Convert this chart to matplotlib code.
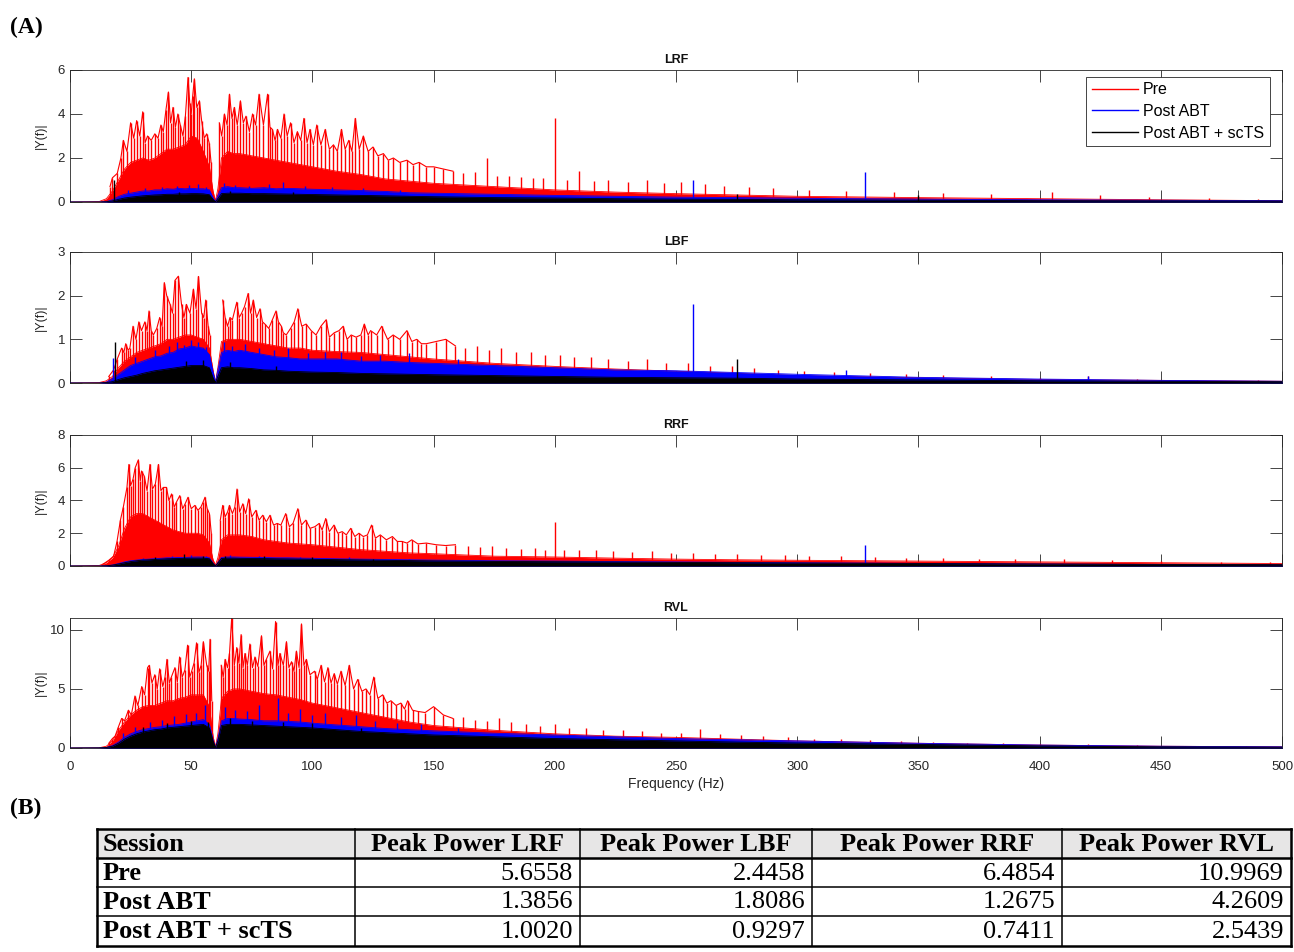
import matplotlib
matplotlib.use("Agg")
import matplotlib.pyplot as plt
from matplotlib.lines import Line2D
from matplotlib.patches import Rectangle

# ---------------------------------------------------------------- data
# Frequency grid (Hz) of the dense "body" of every spectrum.
BODY_F = [0, 12, 15, 17.5, 20, 22.5, 25, 27.5, 30, 32.5, 35, 37.5, 40, 42.5, 45, 47.5,
          50, 52.5, 55, 57.5, 59, 60, 61, 62.5, 65, 67.5, 70, 75, 80, 85, 90, 95,
          100, 110, 120, 130, 140, 150, 175, 200, 225, 250, 275, 300, 350, 400, 450, 500]

SERIES = ["Pre", "Post ABT", "Post ABT + scTS"]
MUSCLES = ["LRF", "LBF", "RRF", "RVL"]

# --- LRF
LRF_PRE_BODY = [0, 0.02, 0.15, 0.5, 1.0, 1.5, 1.8, 1.9, 2.0, 1.9, 2.0, 2.2, 2.4, 2.4, 2.5, 2.6,
                3.0, 2.9, 2.3, 1.6, 0.5, 0.05, 0.6, 2.0, 2.3, 2.2, 2.2, 2.1, 2.0, 1.9, 1.8, 1.7,
                1.6, 1.4, 1.25, 1.05, 0.95, 0.85, 0.7, 0.55, 0.45, 0.38, 0.32, 0.26, 0.2, 0.15, 0.1, 0.06]
LRF_ABT_BODY = [0, 0, 0.02, 0.1, 0.25, 0.35, 0.4, 0.45, 0.5, 0.5, 0.55, 0.55, 0.6, 0.58, 0.62, 0.6,
                0.62, 0.6, 0.6, 0.55, 0.2, 0.02, 0.3, 0.65, 0.7, 0.65, 0.65, 0.62, 0.65, 0.6, 0.62, 0.6,
                0.58, 0.55, 0.52, 0.48, 0.42, 0.4, 0.35, 0.3, 0.26, 0.22, 0.2, 0.17, 0.13, 0.1, 0.08, 0.06]
LRF_TS_BODY = [0, 0, 0.01, 0.05, 0.12, 0.18, 0.22, 0.25, 0.28, 0.3, 0.32, 0.33, 0.35, 0.35, 0.37, 0.37,
               0.38, 0.38, 0.37, 0.33, 0.12, 0.01, 0.15, 0.38, 0.4, 0.4, 0.4, 0.38, 0.38, 0.37, 0.36, 0.35,
               0.34, 0.32, 0.3, 0.28, 0.26, 0.24, 0.2, 0.18, 0.15, 0.13, 0.12, 0.1, 0.08, 0.06, 0.05, 0.04]
LRF_PRE_SPIKES = [
    (16.5, 0.7), (17.5, 1.1), (19.5, 1.3), (21, 2.0), (22, 2.8), (23.5, 2.3), (25, 3.6), (26.3, 2.9),
    (27.5, 3.7), (28.8, 3.0), (30, 4.1), (31, 2.7), (32, 3.0), (33.5, 2.8), (35, 3.1), (36.3, 2.9),
    (37.5, 3.5), (38.5, 3.2), (39.6, 4.2), (40.6, 5.0), (41.5, 3.6), (42.5, 4.3), (43.5, 3.4),
    (44.5, 4.0), (45.5, 3.5), (46.6, 3.0), (47.6, 3.9), (48.7, 5.66), (49.4, 4.5), (50, 4.0),
    (50.6, 4.8), (51.3, 5.6), (52.3, 4.3), (53.4, 4.6), (54.3, 3.7), (55.4, 2.9), (56.4, 3.1),
    (57.4, 2.7), (58.2, 1.8),
    (61.6, 3.6), (62.6, 3.0), (63.7, 4.0), (64.8, 3.5), (65.8, 4.9), (66.8, 3.8), (67.8, 4.3),
    (69, 3.5), (70.3, 4.6), (71.5, 3.6), (72.6, 3.9), (74, 3.2), (75.3, 4.0), (76.6, 3.5), (78, 4.9),
    (79.8, 3.5), (81.5, 4.9), (82.5, 3.4), (83.5, 3.3), (84.6, 2.8), (85.6, 3.3), (87, 2.9),
    (88.3, 4.0), (89.6, 3.0), (91, 3.6), (92.4, 2.7), (93.8, 3.2), (95.2, 2.8), (96.5, 3.8),
    (97.8, 2.7), (99, 3.3), (100.4, 2.6), (101.8, 3.5), (103.5, 2.6), (105.3, 3.3), (107, 2.4),
    (108.7, 2.6), (110.3, 2.3), (112, 3.3), (113.5, 2.4), (115, 2.8), (116.3, 2.3), (117.7, 3.8),
    (119.3, 2.4), (121, 3.0), (123, 2.3), (125, 2.5), (127, 2.1), (129.3, 2.2), (131.3, 1.9),
    (133.4, 2.0), (136, 1.8), (139, 1.9), (141.5, 1.7), (144, 1.8), (147, 1.6), (150, 1.6),
    (154, 1.5), (158, 1.4), (162, 1.3), (167, 1.35), (172, 2.0), (176, 1.2), (181, 1.2),
    (186, 1.15), (191, 1.1), (195, 1.1), (200, 3.8), (205, 1.0), (210, 1.4), (216, 0.95),
    (222, 1.0), (230, 0.9), (238, 1.0), (245, 0.85), (252, 0.9), (262, 0.8), (270, 0.75),
    (280, 0.7), (290, 0.65), (305, 0.55), (320, 0.5), (340, 0.45), (360, 0.4), (380, 0.38),
    (405, 0.45), (425, 0.3), (445, 0.25), (470, 0.2), (490, 0.15)]
LRF_ABT_SPIKES = [(24, 0.55), (31, 0.62), (38, 0.7), (44, 0.72), (49, 0.78), (53, 0.8), (56, 0.68),
                  (63.5, 0.85), (68, 0.78), (74, 0.72), (82, 0.8), (88, 0.9), (97, 0.72),
                  (108, 0.68), (121, 0.62), (136, 0.55), (257, 1.0), (328, 1.3856)]
LRF_TS_SPIKES = [(18.3, 1.002), (45, 0.45), (66, 0.5), (92, 0.45), (275, 0.35), (350, 0.3)]

# --- LBF
LBF_PRE_BODY = [0, 0.01, 0.05, 0.15, 0.35, 0.5, 0.6, 0.7, 0.75, 0.8, 0.85, 0.9, 1.0, 1.0, 1.05, 1.1,
                1.1, 1.05, 1.0, 0.8, 0.3, 0.02, 0.35, 0.95, 1.0, 1.0, 1.0, 0.95, 0.9, 0.85, 0.8, 0.8,
                0.75, 0.72, 0.7, 0.65, 0.6, 0.55, 0.45, 0.38, 0.32, 0.27, 0.22, 0.17, 0.12, 0.08, 0.06, 0.04]
LBF_ABT_BODY = [0, 0, 0.02, 0.1, 0.2, 0.3, 0.4, 0.45, 0.5, 0.55, 0.6, 0.62, 0.68, 0.7, 0.78, 0.8,
                0.85, 0.82, 0.8, 0.65, 0.25, 0.02, 0.3, 0.7, 0.75, 0.72, 0.75, 0.7, 0.65, 0.6, 0.58, 0.55,
                0.55, 0.55, 0.5, 0.5, 0.47, 0.45, 0.4, 0.35, 0.3, 0.28, 0.24, 0.2, 0.13, 0.09, 0.06, 0.04]
LBF_TS_BODY = [0, 0, 0.01, 0.03, 0.08, 0.12, 0.15, 0.18, 0.22, 0.25, 0.28, 0.3, 0.32, 0.34, 0.36, 0.38,
               0.4, 0.4, 0.4, 0.35, 0.12, 0.01, 0.15, 0.35, 0.37, 0.35, 0.35, 0.33, 0.3, 0.29, 0.27, 0.26,
               0.25, 0.24, 0.22, 0.21, 0.2, 0.19, 0.17, 0.15, 0.13, 0.12, 0.11, 0.09, 0.07, 0.05, 0.04, 0.03]
LBF_PRE_SPIKES = [
    (16, 0.15), (18, 0.3), (19.5, 0.55), (21.3, 0.8), (22.2, 0.7), (23, 0.9), (24, 0.75), (24.7, 0.8),
    (26, 1.3), (27.2, 1.0), (28.4, 1.4), (29.5, 1.2), (30.9, 1.4), (31.8, 1.2), (32.6, 1.65),
    (33.5, 1.2), (34.4, 1.1), (35.8, 1.25), (37, 1.5), (38, 1.3), (38.9, 2.3), (39.9, 2.0),
    (41.3, 1.8), (42.3, 1.6), (43.3, 2.35), (44.7, 2.4458), (46, 1.8), (47, 1.5), (48, 1.8),
    (49.5, 1.6), (50.9, 2.15), (52, 1.7), (53, 2.44), (54.3, 1.6), (55.2, 1.5), (56, 1.9),
    (57, 1.3), (57.7, 1.1),
    (63, 1.9), (64, 1.5), (65, 1.3), (66, 1.5), (67, 1.45), (68.8, 1.85), (69.8, 1.5), (70.8, 1.6),
    (72, 1.75), (73.5, 2.05), (74.5, 1.6), (75.6, 1.9), (77, 1.5), (78.4, 1.7), (79.4, 1.4),
    (80.4, 1.35), (82, 1.25), (83.5, 1.45), (85, 1.65), (86, 1.4), (87.2, 1.3), (88, 1.15),
    (89.2, 1.1), (91, 1.25), (92.5, 1.4), (94, 1.7), (95.6, 1.3), (97.4, 1.35), (99.5, 1.2),
    (101.5, 1.1), (103.5, 1.3), (105.7, 1.45), (107, 1.05), (109, 1.15), (111, 1.2), (112.7, 1.3),
    (114.3, 1.0), (116, 1.1), (118, 1.05), (120, 1.1), (121.4, 1.35), (123, 1.1), (124, 1.2),
    (126.5, 1.1), (128.6, 1.3), (131, 1.0), (133.3, 1.1), (136, 1.0), (139, 1.2), (141, 0.95),
    (143, 1.0), (145, 0.9), (147, 0.9), (151, 0.95), (155, 1.0), (159, 0.85), (163, 0.8),
    (168, 0.85), (173, 0.75), (178, 0.8), (184, 0.7), (190, 0.7), (196, 0.65), (202, 0.65),
    (208, 0.6), (215, 0.6), (222, 0.55), (230, 0.5), (238, 0.55), (246, 0.45), (255, 0.45),
    (264, 0.4), (273, 0.4), (282, 0.35), (292, 0.3), (303, 0.28), (315, 0.25), (330, 0.22),
    (345, 0.2), (360, 0.18), (380, 0.15), (400, 0.12), (420, 0.15), (440, 0.1), (465, 0.08),
    (490, 0.06)]
LBF_ABT_SPIKES = [(17.6, 0.57), (27, 0.6), (35, 0.75), (41, 0.85), (44, 0.95), (47, 0.88), (50, 0.98),
                  (53, 0.95), (56, 0.82), (63.5, 0.95), (67, 0.85), (72, 0.9), (78, 0.8), (84, 0.75),
                  (90, 0.8), (98, 0.68), (105, 0.7), (112, 0.72), (120, 0.62), (128, 0.65),
                  (140, 0.68), (160, 0.55), (257, 1.8086), (320, 0.3), (420, 0.15)]
LBF_TS_SPIKES = [(18.6, 0.9297), (48, 0.5), (55, 0.52), (66, 0.48), (85, 0.4), (275, 0.55)]

# --- RRF
RRF_PRE_BODY = [0, 0.03, 0.2, 0.5, 1.2, 2.3, 3.0, 3.2, 3.2, 3.0, 2.8, 2.6, 2.4, 2.2, 2.1, 2.0,
                2.0, 2.0, 1.9, 1.4, 0.4, 0.05, 0.5, 1.6, 1.9, 1.9, 1.9, 1.8, 1.6, 1.5, 1.4, 1.35,
                1.3, 1.15, 1.0, 0.9, 0.8, 0.75, 0.6, 0.55, 0.48, 0.42, 0.38, 0.35, 0.3, 0.25, 0.2, 0.15]
RRF_ABT_BODY = [0, 0, 0.02, 0.06, 0.15, 0.25, 0.32, 0.36, 0.4, 0.42, 0.45, 0.47, 0.5, 0.5, 0.52, 0.52,
                0.54, 0.55, 0.55, 0.5, 0.18, 0.02, 0.2, 0.52, 0.55, 0.55, 0.54, 0.53, 0.52, 0.5, 0.5, 0.48,
                0.47, 0.44, 0.42, 0.4, 0.38, 0.36, 0.32, 0.3, 0.27, 0.25, 0.22, 0.2, 0.16, 0.12, 0.09, 0.07]
RRF_TS_BODY = [0, 0, 0.01, 0.05, 0.12, 0.2, 0.27, 0.32, 0.36, 0.38, 0.4, 0.42, 0.44, 0.45, 0.46, 0.47,
               0.48, 0.48, 0.48, 0.44, 0.15, 0.01, 0.18, 0.46, 0.48, 0.48, 0.47, 0.46, 0.45, 0.44, 0.43, 0.42,
               0.41, 0.39, 0.37, 0.35, 0.33, 0.31, 0.28, 0.26, 0.24, 0.22, 0.2, 0.18, 0.15, 0.12, 0.1, 0.08]
RRF_PRE_SPIKES = [
    (13.5, 0.1), (16, 0.35), (18, 0.6), (19.4, 1.5), (20.8, 2.8), (22, 3.6), (23.5, 4.8), (24.3, 6.2),
    (25, 4.9), (26, 5.3), (26.9, 6.0), (28.2, 6.4854), (29, 5.2), (29.5, 5.8), (30.6, 5.5),
    (31.8, 4.6), (33, 6.2), (34, 4.7), (35.2, 5.0), (36.5, 6.2), (37.5, 4.6), (38.5, 4.8),
    (39.8, 4.8), (40.8, 4.0), (41.9, 4.4), (43, 3.6), (43.9, 3.9), (45.3, 4.3), (46.5, 3.5),
    (47.5, 3.8), (48.7, 4.2), (50, 3.5), (51.5, 3.7), (52.8, 3.4), (54, 3.6), (54.9, 3.9),
    (55.7, 4.2), (56.6, 3.5), (57.5, 3.2), (58.3, 2.0),
    (62, 2.8), (63, 3.7), (64, 3.0), (65, 3.3), (65.8, 3.7), (67, 3.2), (68, 3.6), (68.9, 4.7),
    (70, 3.3), (71.3, 3.8), (72.5, 3.2), (73.7, 4.1), (75, 3.0), (76.7, 3.4), (78, 2.8),
    (79.5, 3.1), (81, 2.7), (82.5, 3.1), (84, 2.5), (85.5, 2.6), (87, 2.5), (89, 3.2), (90.5, 2.4),
    (92, 2.6), (94, 3.5), (95.5, 2.5), (97.3, 2.8), (99, 2.3), (101, 2.4), (102.8, 2.6), (104, 2.2),
    (105.5, 2.9), (107, 2.1), (108.9, 2.5), (110.5, 2.0), (112.3, 2.1), (114, 1.9), (115.8, 2.3),
    (117.5, 1.8), (119.2, 2.0), (121, 1.8), (122.7, 1.9), (124.4, 2.5), (126, 1.7), (128, 1.9),
    (130.5, 1.6), (133, 1.8), (135, 1.5), (137, 1.5), (139, 1.4), (141, 1.6), (143.5, 1.35),
    (147, 1.4), (151, 1.3), (155, 1.25), (159, 1.3), (164, 1.2), (169, 1.15), (174, 1.2),
    (180, 1.1), (186, 1.05), (192, 1.1), (196, 1.0), (200, 2.7), (204, 1.0), (210, 0.95),
    (217, 1.0), (224, 0.9), (232, 0.85), (240, 0.9), (248, 0.8), (257, 0.8), (266, 0.75),
    (275, 0.75), (285, 0.7), (295, 0.65), (305, 0.6), (318, 0.6), (332, 0.55), (345, 0.5),
    (360, 0.5), (375, 0.45), (390, 0.42), (410, 0.4), (430, 0.35), (450, 0.3), (475, 0.27),
    (495, 0.22)]
RRF_ABT_SPIKES = [(30, 0.5), (42, 0.6), (50, 0.65), (56, 0.6), (66, 0.7), (78, 0.6), (95, 0.58),
                  (115, 0.52), (140, 0.45), (328, 1.2675)]
RRF_TS_SPIKES = [(35, 0.55), (47, 0.7411), (55, 0.62), (64, 0.6), (80, 0.6), (100, 0.52), (125, 0.45)]

# --- RVL
RVL_PRE_BODY = [0, 0.02, 0.15, 0.6, 1.5, 2.2, 2.8, 3.2, 3.5, 3.6, 3.6, 3.8, 4.0, 4.0, 4.2, 4.3,
                4.5, 4.5, 4.5, 3.5, 1.0, 0.1, 1.2, 4.2, 4.8, 5.0, 5.0, 4.8, 4.6, 4.5, 4.3, 4.1,
                3.8, 3.4, 3.0, 2.6, 2.2, 1.9, 1.5, 1.2, 1.0, 0.9, 0.75, 0.6, 0.4, 0.25, 0.15, 0.1]
RVL_ABT_BODY = [0, 0.01, 0.05, 0.2, 0.5, 0.9, 1.2, 1.4, 1.55, 1.65, 1.75, 1.8, 1.9, 1.95, 2.0, 2.1,
                2.2, 2.3, 2.4, 2.0, 0.7, 0.05, 0.8, 2.3, 2.5, 2.5, 2.45, 2.4, 2.3, 2.3, 2.25, 2.2,
                2.1, 1.95, 1.8, 1.65, 1.55, 1.45, 1.25, 1.1, 0.95, 0.8, 0.7, 0.6, 0.4, 0.25, 0.15, 0.1]
RVL_TS_BODY = [0, 0.01, 0.04, 0.15, 0.4, 0.75, 1.0, 1.2, 1.35, 1.45, 1.55, 1.6, 1.7, 1.75, 1.8, 1.85,
               1.9, 1.95, 2.0, 1.7, 0.6, 0.03, 0.6, 1.9, 2.0, 2.0, 2.0, 1.95, 1.9, 1.85, 1.8, 1.75,
               1.7, 1.55, 1.4, 1.3, 1.2, 1.1, 0.95, 0.8, 0.7, 0.6, 0.5, 0.42, 0.3, 0.18, 0.1, 0.07]
RVL_PRE_SPIKES = [
    (16, 0.4), (17.5, 0.8), (18.6, 1.0), (20, 1.8), (21.3, 2.5), (22.5, 2.3), (24.1, 3.2), (25.3, 2.8),
    (26.8, 4.4), (28, 3.6), (29.6, 5.2), (30.8, 4.5), (32, 6.8), (32.7, 7.0), (33.8, 5.5), (35, 6.2),
    (36, 5.0), (37, 6.7), (38.3, 5.2), (39.2, 6.0), (40, 7.5), (41, 5.5), (41.8, 6.0), (43.3, 6.8),
    (44.3, 5.6), (45.2, 7.7), (46.3, 6.0), (47.4, 6.6), (48.5, 8.7), (49.4, 6.0), (50.2, 6.5),
    (51.2, 7.2), (52.2, 8.9), (53.2, 6.4), (54.1, 7.0), (55, 9.0), (56.4, 7.0), (57.2, 6.5),
    (57.8, 9.2), (58.5, 4.0),
    (62.4, 7.0), (63.2, 6.0), (64, 7.5), (65, 6.8), (65.8, 8.0), (66.7, 10.9969), (67.8, 7.0),
    (68.8, 8.5), (69.7, 7.2), (70.6, 9.6), (71.4, 6.8), (72.2, 8.0), (73.2, 7.0), (74.2, 8.8),
    (75.3, 6.8), (76.3, 7.7), (77.5, 6.9), (79, 9.5), (80, 7.0), (81, 7.5), (82.5, 8.2), (83.6, 6.7),
    (84.8, 10.7), (85.8, 7.0), (86.6, 8.0), (88, 7.0), (89.3, 9.0), (90.3, 6.8), (91.4, 7.3),
    (92.4, 6.5), (93.4, 8.2), (94.5, 6.8), (95.5, 10.5), (96.5, 7.0), (97.5, 7.5), (99, 6.2),
    (100.9, 6.5), (102, 5.8), (103.6, 7.0), (105, 5.6), (106.4, 6.8), (107.7, 5.5), (109, 6.3),
    (110.3, 5.4), (111.8, 6.5), (113.5, 5.3), (115.2, 7.0), (117, 5.0), (118.7, 5.8), (120.4, 4.8),
    (122.1, 5.0), (123.7, 4.5), (125.3, 6.0), (127, 4.2), (129, 4.5), (130.7, 3.8), (132.4, 4.0),
    (134.5, 3.6), (136.5, 3.8), (138, 3.3), (139.3, 4.0), (141.3, 3.2), (143.4, 3.1), (146.5, 3.0),
    (150, 3.5), (154, 2.8), (158, 2.5), (162, 2.6), (167, 2.4), (172, 2.3), (177, 2.5), (182, 2.2),
    (188, 2.0), (194, 1.9), (200, 2.0), (206, 1.7), (213, 1.7), (220, 1.5), (228, 1.5), (236, 1.4),
    (244, 1.3), (252, 1.3), (260, 1.6), (268, 1.2), (277, 1.1), (286, 1.0), (296, 0.9), (307, 0.8),
    (318, 0.75), (330, 0.65), (343, 0.6), (356, 0.5), (370, 0.45), (385, 0.4), (400, 0.35),
    (420, 0.3), (440, 0.25), (460, 0.2), (485, 0.15)]
RVL_ABT_SPIKES = [(22, 1.3), (27, 1.8), (33, 2.2), (38, 2.4), (43, 2.7), (48, 2.9), (52, 3.0),
                  (55.5, 3.6), (64, 3.5), (68, 3.2), (73, 3.1), (78, 3.6), (86, 4.2609), (90, 3.0),
                  (95, 3.3), (100, 2.8), (105, 3.0), (112, 2.6), (118, 2.8), (126, 2.3), (135, 2.1),
                  (145, 2.0), (160, 1.7)]
RVL_TS_SPIKES = [(30, 1.8), (40, 2.1), (50, 2.3), (57, 2.2), (66, 2.5439), (75, 2.3), (88, 2.2),
                 (100, 2.1), (120, 1.7)]

Y_MAX = [6, 3, 8, 11]
Y_TICKS = [[0, 2, 4, 6], [0, 1, 2, 3], [0, 2, 4, 6, 8], [0, 5, 10]]

# table (B)
TABLE_HEADER = ["Session", "Peak Power LRF", "Peak Power LBF", "Peak Power RRF", "Peak Power RVL"]
PEAK_LRF = [5.6558, 1.3856, 1.0020]
PEAK_LBF = [2.4458, 1.8086, 0.9297]
PEAK_RRF = [6.4854, 1.2675, 0.7411]
PEAK_RVL = [10.9969, 4.2609, 2.5439]

# ---------------------------------------------------------------- style
W, H = 1294, 952
RED, BLUE, BLACK = "#ff0000", "#0000ff", "#000000"
GRAY = "#262626"
SERIF = ["Liberation Serif", "DejaVu Serif"]
plt.rcParams["font.family"] = ["Liberation Sans", "DejaVu Sans"]

PANEL_ROWS = [(70, 202), (252, 383), (435, 566), (618, 748)]   # top, bottom in px
AX_LEFT, AX_RIGHT = 70, 1282

panels = [
    [(LRF_PRE_BODY, LRF_PRE_SPIKES), (LRF_ABT_BODY, LRF_ABT_SPIKES), (LRF_TS_BODY, LRF_TS_SPIKES)],
    [(LBF_PRE_BODY, LBF_PRE_SPIKES), (LBF_ABT_BODY, LBF_ABT_SPIKES), (LBF_TS_BODY, LBF_TS_SPIKES)],
    [(RRF_PRE_BODY, RRF_PRE_SPIKES), (RRF_ABT_BODY, RRF_ABT_SPIKES), (RRF_TS_BODY, RRF_TS_SPIKES)],
    [(RVL_PRE_BODY, RVL_PRE_SPIKES), (RVL_ABT_BODY, RVL_ABT_SPIKES), (RVL_TS_BODY, RVL_TS_SPIKES)],
]
colors = [RED, BLUE, BLACK]

fig = plt.figure(figsize=(W / 100, H / 100), dpi=100)


def px_axes(left, top, right, bottom):
    return fig.add_axes([left / W, 1 - bottom / H, (right - left) / W, (bottom - top) / H])


axes = []
for i, name in enumerate(MUSCLES):
    top, bottom = PANEL_ROWS[i]
    ax = px_axes(AX_LEFT, top, AX_RIGHT, bottom)
    axes.append(ax)
    for k, (body, spikes) in enumerate(panels[i]):
        z = 2 + k
        c = colors[k]
        ax.fill_between(BODY_F, 0, body, color=c, linewidth=0, zorder=z)
        ax.plot(BODY_F, body, color=c, linewidth=0.6, zorder=z)
        sf, sy = zip(*spikes)
        ax.vlines(sf, 0, sy, color=c, linewidth=1.0, zorder=z)
        if k == 0:
            # jagged top of the dense low-frequency part, broken at the 60 Hz notch
            for part in ([p for p in spikes if p[0] < 60],
                         [p for p in spikes if 60 < p[0] <= 160]):
                pf, py = zip(*part)
                ax.plot(pf, py, color=c, linewidth=0.8, zorder=z)
    ax.set_xlim(0, 500)
    ax.set_ylim(0, Y_MAX[i])
    ax.set_xticks(range(0, 501, 50))
    ax.set_yticks(Y_TICKS[i])
    ax.tick_params(direction="in", length=8.5, width=0.6, top=True, right=True,
                   colors=GRAY, labelsize=9.5)
    ax.tick_params(axis="x", pad=9)
    for s in ax.spines.values():
        s.set_color(GRAY)
        s.set_linewidth(0.6)
    if i < 3:
        ax.tick_params(labelbottom=False)
    ax.set_title(name, fontsize=9, fontweight="bold", color="#111111", pad=5)
    ax.set_ylabel("|Y(f)|", fontsize=9, color=GRAY)
    ax.yaxis.set_label_coords(-(AX_LEFT - 47) / (AX_RIGHT - AX_LEFT), 0.5)

axes[-1].set_xlabel("Frequency (Hz)", fontsize=10, color=GRAY)
axes[-1].xaxis.set_label_coords(0.5, -(777 - 748) / 130)

handles = [Line2D([], [], color=c, linewidth=1.0) for c in colors]
leg = axes[0].legend(handles, SERIES, loc="upper right", bbox_to_anchor=(0.99, 0.95),
                     fontsize=11.5, frameon=True, fancybox=False, framealpha=1,
                     edgecolor=GRAY, handlelength=2.9, handletextpad=0.3,
                     labelspacing=0.42, borderpad=0.35, borderaxespad=0)
leg.get_frame().set_linewidth(0.6)

fig.text(10 / W, 1 - 27 / H, "(A)", family=SERIF, fontsize=17, fontweight="bold", va="center")
fig.text(10 / W, 1 - 808 / H, "(B)", family=SERIF, fontsize=17, fontweight="bold", va="center")

# ---------------------------------------------------------------- table
tax = fig.add_axes([0, 0, 1, 1])
tax.set_xlim(0, W)
tax.set_ylim(H, 0)
tax.axis("off")
tax.patch.set_visible(False)

COL_X = [97, 355, 580, 812, 1062, 1291]
ROW_Y = [829, 858, 887, 916, 946]
tax.add_patch(Rectangle((COL_X[0], ROW_Y[0]), COL_X[-1] - COL_X[0], ROW_Y[1] - ROW_Y[0],
                        facecolor="#e7e6e6", edgecolor="none"))
for j, y in enumerate(ROW_Y):
    lw = 1.8 if j in (0, 1, len(ROW_Y) - 1) else 1.1
    tax.plot([COL_X[0], COL_X[-1]], [y, y], color="black", linewidth=lw, solid_capstyle="projecting")
for j, x in enumerate(COL_X):
    lw = 1.8 if j in (0, len(COL_X) - 1) else 1.1
    tax.plot([x, x], [ROW_Y[0], ROW_Y[-1]], color="black", linewidth=lw, solid_capstyle="projecting")

fs = 19
yc = (ROW_Y[0] + ROW_Y[1]) / 2 + 1
tax.text(COL_X[0] + 6, yc, TABLE_HEADER[0], family=SERIF, fontsize=fs, fontweight="bold",
         ha="left", va="center")
for c in range(1, 5):
    tax.text((COL_X[c] + COL_X[c + 1]) / 2, yc, TABLE_HEADER[c], family=SERIF, fontsize=fs,
             fontweight="bold", ha="center", va="center")
columns = [PEAK_LRF, PEAK_LBF, PEAK_RRF, PEAK_RVL]
for r, sess in enumerate(SERIES):
    yc = (ROW_Y[r + 1] + ROW_Y[r + 2]) / 2 + 1
    tax.text(COL_X[0] + 6, yc, sess, family=SERIF, fontsize=fs, fontweight="bold",
             ha="left", va="center")
    for c, col in enumerate(columns):
        tax.text(COL_X[c + 2] - 7, yc, f"{col[r]:.4f}", family=SERIF, fontsize=fs,
                 ha="right", va="center")

fig.savefig("out.png", dpi=100)
